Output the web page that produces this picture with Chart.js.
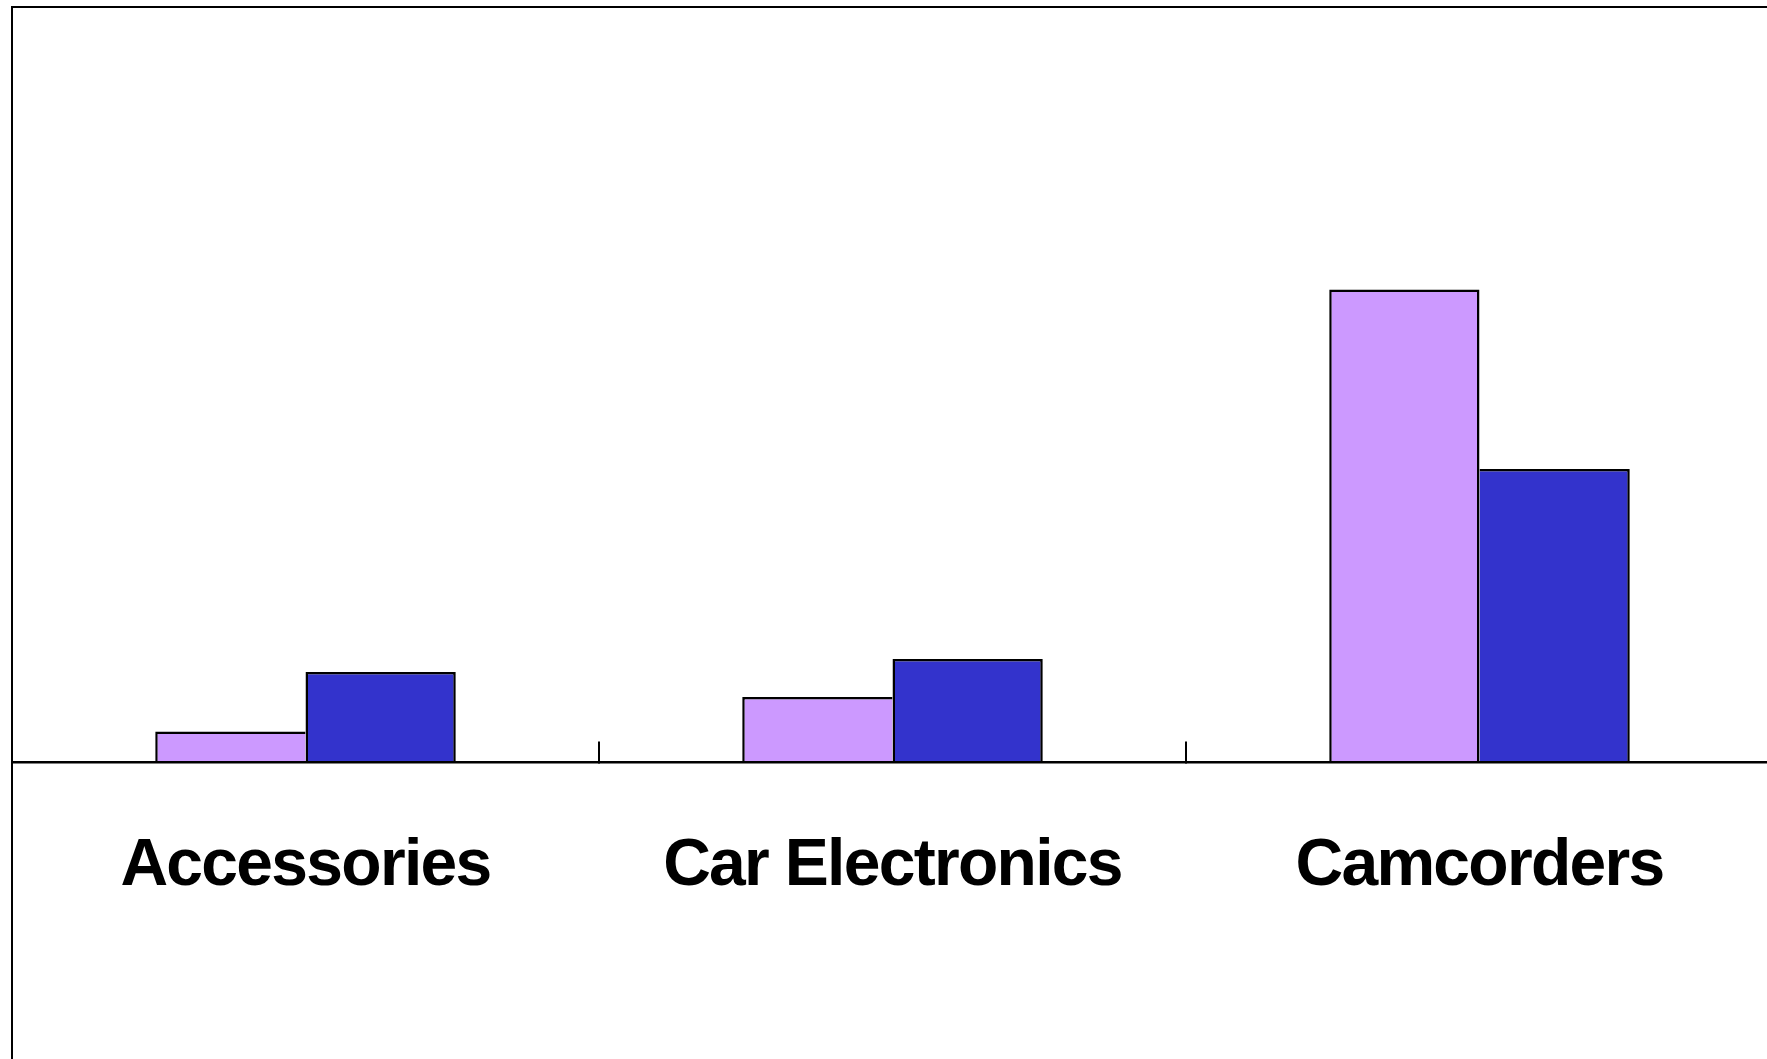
<!DOCTYPE html>
<html>
<head>
<meta charset="utf-8">
<script src="https://cdn.jsdelivr.net/npm/chart.js@4"></script>
<style>
  html, body { margin: 0; padding: 0; background: #fff; overflow: hidden; }
  #wrap { position: absolute; left: 0; top: 0; width: 1780px; height: 1080px; }
</style>
</head>
<body>
<div id="wrap"><canvas id="salesChart" width="1780" height="1080"></canvas></div>
<script>
var categories = ["Accessories", "Car Electronics", "Camcorders"];
var series1 = [3.05, 6.5, 47.25];
var series2 = [9.0, 10.3, 29.3];

// box around the plot area (only left and top edges end up on screen)
var frame = {
  id: 'frame',
  beforeDraw: function(chart) {
    chart.ctx.letterSpacing = '-1.7px';
  },
  afterDraw: function(chart) {
    var a = chart.chartArea, ctx = chart.ctx;
    ctx.save();
    ctx.strokeStyle = '#000';
    ctx.lineWidth = 2;
    ctx.strokeRect(a.left, a.top, a.right - a.left, a.bottom - a.top);
    ctx.restore();
  }
};

// the shared edge between the two bars of a category is drawn once, by the taller bar
function edges(ctx) {
  var i = ctx.dataIndex;
  var a = series1[i], b = series2[i];
  var w = 2.5;
  if (ctx.datasetIndex === 0) {
    return { top: w, left: w, right: a >= b ? w : 0, bottom: 0 };
  }
  return { top: w, left: b > a ? w : 0, right: w, bottom: 0 };
}

function buildChart() {
  var ctx = document.getElementById('salesChart').getContext('2d');
  var chart = new Chart(ctx, {
    type: 'bar',
    data: {
      labels: categories,
      datasets: [{
        label: 'Series1',
        data: series1,
        backgroundColor: '#CC99FF',
        borderColor: '#000',
        borderWidth: edges
      }, {
        label: 'Series2',
        data: series2,
        backgroundColor: '#3333CC',
        borderColor: '#000',
        borderWidth: edges
      }]
    },
    options: {
      responsive: false,
      animation: false,
      categoryPercentage: 0.512,
      barPercentage: 1,
      layout: { padding: { left: 12, top: 7, right: 7, bottom: 5 } },
      plugins: {
        legend: { display: false },
        tooltip: { enabled: false }
      },
      scales: {
        x: {
          position: { y: 0 },
          border: { display: true, color: '#000', width: 2.5, z: 1 },
          grid: {
            drawOnChartArea: false,
            drawTicks: true,
            tickLength: -22,
            color: '#000',
            lineWidth: 2
          },
          ticks: {
            color: '#000',
            padding: 87,
            maxRotation: 0,
            font: { family: 'Liberation Sans', size: 66, weight: 'bold' }
          }
        },
        y: {
          display: false,
          min: -31.3,
          max: 75.5
        }
      }
    },
    plugins: [frame]
  });
}

buildChart();
</script>
</body>
</html>
